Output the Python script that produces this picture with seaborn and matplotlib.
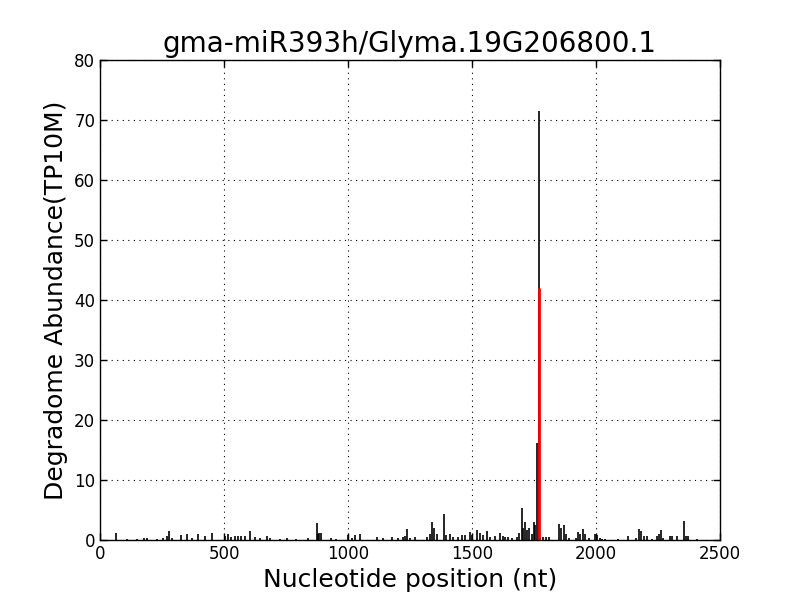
import seaborn as sns
import matplotlib.pyplot as plt

# 降解组 t-plot 数据（位置 nt, 丰度 TP10M）
positions = [65, 110, 150, 178, 190, 230, 255, 270, 280, 290, 325, 350, 370, 395, 423,
             450, 503, 518, 530, 544, 558, 570, 585, 605, 625, 645, 672, 685, 725, 755,
             790, 840, 876, 880, 885, 893, 930, 950, 1000, 1015, 1030, 1048, 1117, 1140,
             1177, 1200, 1220, 1230, 1237, 1250, 1270, 1317, 1330, 1340, 1348, 1357, 1388,
             1395, 1411, 1425, 1445, 1460, 1470, 1492, 1500, 1521, 1532, 1545, 1561, 1572,
             1593, 1613, 1626, 1633, 1646, 1660, 1680, 1690, 1700, 1707, 1714, 1720, 1730,
             1740, 1750, 1755, 1762, 1770, 1775, 1786, 1800, 1812, 1851, 1860, 1870, 1878,
             1890, 1918, 1928, 1937, 1948, 1955, 1970, 1996, 2005, 2015, 2023, 2035, 2090,
             2130, 2160, 2173, 2180, 2195, 2205, 2225, 2245, 2255, 2262, 2270, 2298, 2305,
             2325, 2355, 2363, 2370, 2408]
abundance = [1.1, 0.2, 0.2, 0.3, 0.3, 0.2, 0.4, 0.6, 1.5, 0.3, 0.9, 1.0, 0.4, 1.0, 0.6,
             1.1, 0.7, 1.0, 0.5, 0.7, 0.7, 0.7, 0.7, 1.5, 0.5, 0.3, 0.7, 0.3, 0.2, 0.3,
             0.2, 0.3, 2.8, 1.0, 1.2, 1.1, 0.3, 0.2, 0.8, 0.4, 0.8, 1.0, 0.5, 0.3,
             0.5, 0.4, 0.5, 0.6, 1.8, 0.4, 0.5, 0.5, 1.0, 3.0, 2.0, 1.0, 4.3,
             0.8, 1.0, 0.5, 0.5, 0.8, 0.9, 1.3, 0.8, 1.7, 1.2, 0.8, 1.5, 0.5,
             0.7, 1.1, 0.7, 0.5, 0.5, 0.4, 0.5, 1.2, 5.3, 2.0, 3.0, 1.7, 2.0,
             1.0, 3.0, 2.5, 16.2, 71.5, 0.3, 0.5, 0.5, 0.5, 2.6, 2.0, 2.5, 1.0,
             0.4, 0.3, 1.3, 1.0, 1.8, 1.0, 0.4, 1.0, 0.8, 0.3, 0.2, 0.2, 0.2,
             0.6, 0.3, 1.8, 1.5, 0.7, 0.7, 0.2, 0.6, 1.0, 1.7, 0.4, 0.7, 0.6,
             0.7, 3.1, 0.7, 0.6, 0.2]

# 切割位点
cleave_pos = 1770
cleave_val = 42

sns.set_theme(style="ticks")
plt.rcParams['font.family'] = ['DejaVu Sans']
plt.rcParams['xtick.direction'] = 'in'
plt.rcParams['ytick.direction'] = 'in'
plt.rcParams['text.color'] = 'black'
plt.rcParams['axes.labelcolor'] = 'black'
plt.rcParams['xtick.color'] = 'black'
plt.rcParams['ytick.color'] = 'black'

fig, ax = plt.subplots(figsize=(8, 6), dpi=100)
fig.subplots_adjust(left=0.125, right=0.9, top=0.9, bottom=0.1)

ax.vlines(positions, 0, abundance, color='black', linewidth=1.2)
ax.vlines([cleave_pos], 0, [cleave_val], color='red', linewidth=2)

ax.set_xlim(0, 2500)
ax.set_ylim(0, 80)
ax.grid(True, linestyle=(0, (1, 4)), color='black', linewidth=0.8)
ax.tick_params(top=True, right=True, labelsize=12, length=5, width=1)
for s in ax.spines.values():
    s.set_color('black')
    s.set_linewidth(1)

ax.set_title('gma-miR393h/Glyma.19G206800.1', fontsize=20)
ax.set_xlabel('Nucleotide position (nt)', fontsize=18)
ax.set_ylabel('Degradome Abundance(TP10M)', fontsize=18)

plt.savefig('out.png', dpi=100)
